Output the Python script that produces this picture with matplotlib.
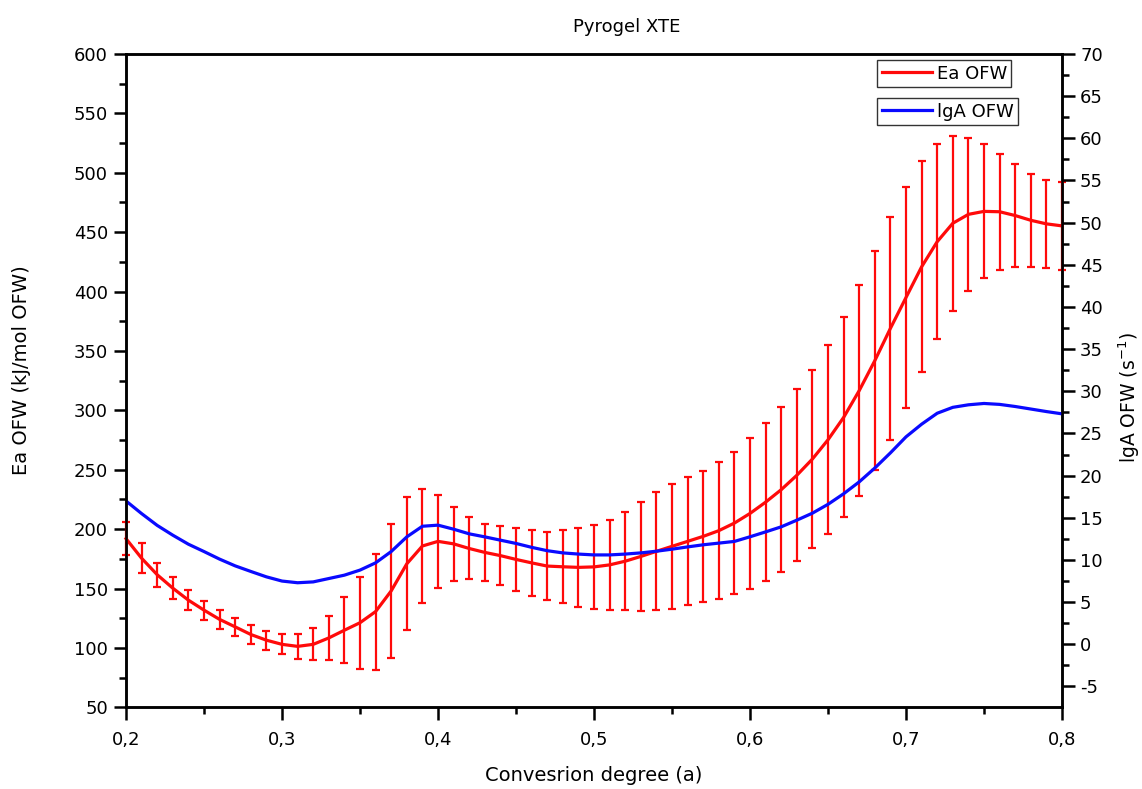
import matplotlib
matplotlib.use("Agg")
import matplotlib.pyplot as plt
from matplotlib.ticker import MultipleLocator, FuncFormatter

plt.rcParams['font.family'] = ['DejaVu Sans']
plt.rcParams['axes.unicode_minus'] = False

conversion = [0.20, 0.21, 0.22, 0.23, 0.24, 0.25, 0.26, 0.27, 0.28, 0.29,
              0.30, 0.31, 0.32, 0.33, 0.34, 0.35, 0.36, 0.37, 0.38, 0.39,
              0.40, 0.41, 0.42, 0.43, 0.44, 0.45, 0.46, 0.47, 0.48, 0.49,
              0.50, 0.51, 0.52, 0.53, 0.54, 0.55, 0.56, 0.57, 0.58, 0.59,
              0.60, 0.61, 0.62, 0.63, 0.64, 0.65, 0.66, 0.67, 0.68, 0.69,
              0.70, 0.71, 0.72, 0.73, 0.74, 0.75, 0.76, 0.77, 0.78, 0.79,
              0.80]

ea_ofw = [192.0, 175.5, 161.6, 150.3, 140.2, 131.8, 124.0, 117.7, 111.3, 106.5,
          103.0, 101.3, 103.0, 108.4, 114.9, 121.2, 130.6, 148.0, 170.8, 185.8,
          189.7, 187.6, 183.7, 180.4, 177.7, 174.5, 171.6, 168.9, 168.3, 167.8,
          168.2, 169.9, 173.0, 177.0, 181.3, 185.5, 189.7, 193.9, 198.7, 205.1,
          213.2, 222.7, 233.2, 245.3, 259.0, 275.2, 294.0, 316.6, 341.8, 369.0,
          395.0, 420.8, 442.0, 457.5, 465.0, 467.5, 467.2, 464.0, 460.0, 457.0,
          455.3]

ea_err = [14.0, 12.5, 10.3, 9.0, 8.5, 7.9, 7.7, 7.5, 7.7, 7.9,
          8.5, 10.3, 13.4, 18.8, 28.0, 38.6, 48.8, 56.1, 55.9, 48.4,
          38.9, 31.2, 26.1, 24.3, 24.9, 26.5, 27.6, 28.8, 30.9, 33.3,
          35.1, 37.6, 41.3, 45.9, 49.6, 52.4, 53.8, 55.2, 57.4, 59.9,
          63.2, 66.3, 69.2, 72.4, 75.3, 79.7, 84.2, 88.9, 92.2, 94.0,
          93.0, 88.7, 82.2, 73.7, 64.7, 56.4, 49.0, 43.4, 39.2, 37.0,
          36.9]

lga_ofw = [17.0, 15.5, 14.1, 12.94, 11.87, 11.0, 10.1, 9.3, 8.64, 8.0,
           7.5, 7.3, 7.4, 7.8, 8.2, 8.8, 9.66, 11.0, 12.74, 14.0,
           14.13, 13.65, 13.1, 12.74, 12.35, 11.96, 11.5, 11.1, 10.84, 10.7,
           10.6, 10.6, 10.7, 10.84, 11.04, 11.28, 11.55, 11.8, 12.0, 12.2,
           12.75, 13.33, 13.93, 14.72, 15.55, 16.6, 17.85, 19.26, 20.9, 22.7,
           24.6, 26.1, 27.4, 28.1, 28.4, 28.56, 28.45, 28.2, 27.9, 27.6,
           27.33]

W, H = 1142, 789
fig = plt.figure(figsize=(W / 100, H / 100), dpi=100)
ax_l, ax_r, ax_t, ax_b = 126, 1062, 54, 707.3
ax = fig.add_axes([ax_l / W, 1 - ax_b / H, (ax_r - ax_l) / W, (ax_b - ax_t) / H])
ax2 = ax.twinx()

red = '#ff0a0a'
blue = '#0a0aff'

ax.errorbar(conversion, ea_ofw, yerr=ea_err, color=red, ecolor=red,
            elinewidth=1.6, capsize=2.6, capthick=1.6, lw=2.3,
            label='Ea OFW', clip_on=False, zorder=3)
ax2.plot(conversion, lga_ofw, color=blue, lw=2.3, label='lgA OFW')

ax.set_xlim(0.2, 0.8)
ax.set_ylim(50, 600)
ax2.set_ylim(-7.47, 70)

comma = FuncFormatter(lambda v, p: ('%g' % round(v, 3)).replace('.', ','))
ax.xaxis.set_major_locator(MultipleLocator(0.1))
ax.xaxis.set_minor_locator(MultipleLocator(0.05))
ax.xaxis.set_major_formatter(comma)
ax.yaxis.set_major_locator(MultipleLocator(50))
ax.yaxis.set_minor_locator(MultipleLocator(25))
ax2.yaxis.set_major_locator(MultipleLocator(5))
ax2.yaxis.set_minor_locator(MultipleLocator(2.5))

for a in (ax, ax2):
    for s in a.spines.values():
        s.set_linewidth(1.8)
    a.tick_params(which='major', direction='out', length=9, width=1.8,
                  labelsize=13, pad=4)
    a.tick_params(which='minor', direction='out', length=5, width=1.8)
ax.tick_params(axis='x', pad=8)
ax.tick_params(axis='y', which='both', right=False)
ax2.tick_params(axis='y', which='both', left=False)

ax.set_xlabel('Convesrion degree (a)', fontsize=14)
ax.set_ylabel('Ea OFW (kJ/mol OFW)', fontsize=14)
ax2.set_ylabel('lgA OFW (s$^{-1}$)', fontsize=13.5)
pw, ph = ax_r - ax_l, ax_b - ax_t
ax.xaxis.set_label_coords((594 - ax_l) / pw, (ax_b - 766) / ph)
ax.yaxis.set_label_coords((31 - ax_l) / pw, (ax_b - 370) / ph)
ax2.yaxis.set_label_coords((1116 - ax_l) / pw, (ax_b - 398) / ph)

fig.text(627 / W, 1 - 27 / H, 'Pyrogel XTE', ha='center', va='center', fontsize=13)

leg_kw = dict(loc='upper left', fontsize=13, frameon=True, fancybox=False,
              framealpha=1, edgecolor='#333333', borderaxespad=0,
              handlelength=2.8, handletextpad=0.25, borderpad=0.25)
l1 = fig.legend(handles=[ax.get_lines()[0]], labels=['Ea OFW'],
                bbox_to_anchor=(877 / W, 1 - 60 / H), **leg_kw)
l2 = fig.legend(handles=[ax2.get_lines()[0]], labels=['lgA OFW'],
                bbox_to_anchor=(877 / W, 1 - 98 / H), **leg_kw)
for l in (l1, l2):
    l.get_frame().set_linewidth(1.0)

fig.savefig('out.png', dpi=100)
